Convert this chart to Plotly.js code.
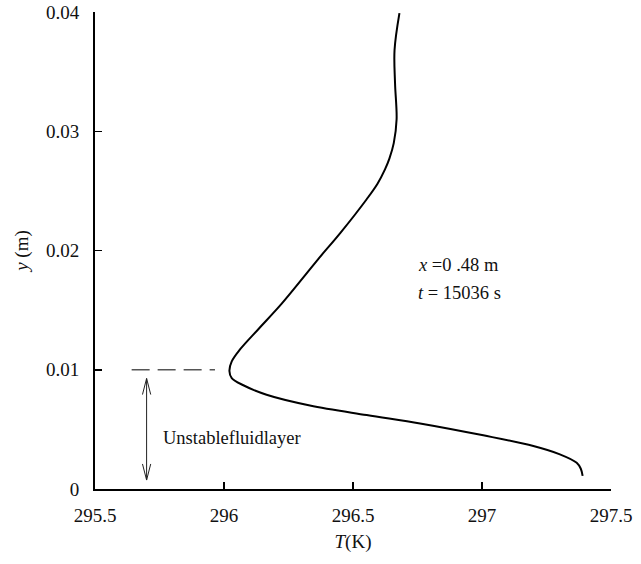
<!DOCTYPE html>
<html>
<head>
<meta charset="utf-8">
<script src="https://cdn.plot.ly/plotly-3.0.1.min.js"></script>
<style>html,body{margin:0;padding:0;background:#fff;}#chart{width:641px;height:564px;}</style>
</head>
<body>
<div id="chart"></div>
<script>
// Temperature profile T(y) at x = 0.48 m, t = 15036 s
const yValues = [0.0011, 0.0017, 0.0022, 0.0029, 0.0036, 0.0045, 0.0055, 0.0062, 0.0070, 0.0079,
                 0.0087, 0.0093, 0.0099, 0.0107, 0.0117, 0.0134, 0.0155, 0.0177, 0.0192, 0.0215,
                 0.0243, 0.0256, 0.0268, 0.0277, 0.0290, 0.0310, 0.0340, 0.0368, 0.0399];
const tValues = [297.390, 297.383, 297.367, 297.302, 297.199, 297.005, 296.760, 296.553, 296.333, 296.165,
                 296.075, 296.030, 296.021, 296.030, 296.062, 296.133, 296.222, 296.306, 296.362, 296.452,
                 296.553, 296.595, 296.624, 296.641, 296.658, 296.669, 296.663, 296.661, 296.680];
const xTicks = [295.5, 296, 296.5, 297, 297.5];
const xTickLabels = ['295.5', '296', '296.5', '297', '297.5'];
const yTicks = [0, 0.01, 0.02, 0.03, 0.04];
const yTickLabels = ['0', '0.01', '0.02', '0.03', '0.04'];

// Unstable layer marker
const layerTop = 0.01;
const dashStartT = 295.642, dashEndT = 295.965;
const arrowT = 295.7, arrowBottom = 0.00075, arrowTop = 0.00927;
const headHalfW = 0.016, headLen = 0.00135;

const serif = 'Liberation Serif';

const trace = {
  x: tValues, y: yValues, type: 'scatter', mode: 'lines',
  line: {color: '#000', width: 2, shape: 'spline', smoothing: 1},
  hoverinfo: 'skip', showlegend: false
};

const shapes = [
  {type: 'line', xref: 'x', yref: 'y', x0: dashStartT, x1: dashEndT, y0: layerTop, y1: layerTop,
   line: {color: '#555', width: 1.3, dash: '18px,8px'}},
  {type: 'line', xref: 'x', yref: 'y', x0: arrowT, x1: arrowT, y0: arrowBottom, y1: arrowTop,
   line: {color: '#222', width: 1}},
  {type: 'path', xref: 'x', yref: 'y',
   path: `M${arrowT - headHalfW},${arrowTop - headLen} L${arrowT},${arrowTop} L${arrowT + headHalfW},${arrowTop - headLen}`,
   line: {color: '#222', width: 1}},
  {type: 'path', xref: 'x', yref: 'y',
   path: `M${arrowT - headHalfW},${arrowBottom + headLen} L${arrowT},${arrowBottom} L${arrowT + headHalfW},${arrowBottom + headLen}`,
   line: {color: '#222', width: 1}}
];

const annotations = [
  {x: 295.755, y: 0.0043, xref: 'x', yref: 'y', xanchor: 'left', yanchor: 'middle', showarrow: false,
   text: 'Unstablefluidlayer', font: {family: serif, size: 18.5, color: '#111'}},
  {x: 296.745, y: 0.0188, xref: 'x', yref: 'y', xanchor: 'left', yanchor: 'middle', showarrow: false,
   text: '<i>x</i> =0 .48 m', font: {family: serif, size: 18.5, color: '#111'}},
  {x: 296.745, y: 0.0164, xref: 'x', yref: 'y', xanchor: 'left', yanchor: 'middle', showarrow: false,
   text: '<i>t</i> = 15036 s', font: {family: serif, size: 18.5, color: '#111'}}
];

const layout = {
  width: 641, height: 564,
  margin: {l: 95, r: 30, t: 12, b: 75},
  paper_bgcolor: '#fff', plot_bgcolor: '#fff',
  font: {family: serif, color: '#111', size: 19},
  xaxis: {
    range: [295.5, 297.5], tickmode: 'array', tickvals: xTicks, ticktext: xTickLabels,
    ticks: 'inside', ticklen: 7, tickwidth: 1.5, tickcolor: '#000',
    showline: true, linecolor: '#000', linewidth: 2, showgrid: false, zeroline: false,
    tickfont: {family: serif, size: 19, color: '#111'}, ticklabelstandoff: 8,
    title: {text: '<i>T</i>(K)', font: {family: serif, size: 19, color: '#111'}, standoff: 10}
  },
  yaxis: {
    range: [0, 0.04], tickmode: 'array', tickvals: yTicks, ticktext: yTickLabels,
    ticks: 'inside', ticklen: 7, tickwidth: 1.5, tickcolor: '#000',
    showline: true, linecolor: '#000', linewidth: 2, showgrid: false, zeroline: false,
    tickfont: {family: serif, size: 19, color: '#111'}, ticklabelstandoff: 10,
    title: {text: '<i>y</i> (m)', font: {family: serif, size: 19, color: '#111'}, standoff: 12}
  },
  shapes: shapes,
  annotations: annotations,
  showlegend: false
};

Plotly.newPlot('chart', [trace], layout, {displayModeBar: false, staticPlot: true});
</script>
</body>
</html>
